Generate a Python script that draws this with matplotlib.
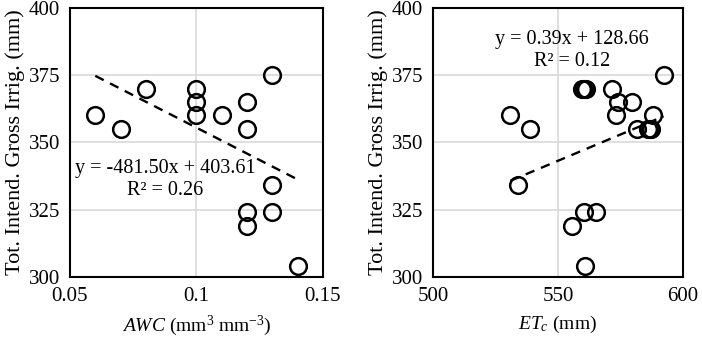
import numpy as np
import matplotlib
matplotlib.use("Agg")
import matplotlib.pyplot as plt

plt.rcParams['font.family'] = 'Liberation Serif'
plt.rcParams['mathtext.fontset'] = 'custom'
plt.rcParams['mathtext.rm'] = 'Liberation Serif'
plt.rcParams['mathtext.it'] = 'Liberation Serif:italic'

# left panel data
awc = [0.06, 0.07, 0.08, 0.10, 0.10, 0.10, 0.11, 0.12, 0.12, 0.12, 0.12, 0.13, 0.13, 0.13, 0.14]
irr_awc = [360, 355, 370, 370, 365, 360, 360, 365, 355, 324, 319, 375, 334, 324, 304]
awc_slope, awc_int = -481.50, 403.61
awc_r2 = 0.26

# right panel data
etc = [531, 539, 534, 559.7, 560.5, 561.2, 560.5, 565.4, 555.7, 560.8, 571.8, 573.9,
       579.8, 573.4, 581.6, 586, 586.7, 587.4, 588, 592.3]
irr_etc = [360, 355, 334, 370, 370, 370, 324, 324, 319, 304, 370, 365,
           365, 360, 355, 355, 355, 355, 360, 375]
etc_slope, etc_int = 0.39, 128.66
etc_r2 = 0.12

yticks = [300, 325, 350, 375, 400]

fig = plt.figure(figsize=(7.02, 3.39), dpi=100)
ax1 = fig.add_axes([0.0997, 0.183, 0.3604, 0.794])
ax2 = fig.add_axes([0.6168, 0.183, 0.356, 0.794])


def panel(ax, x, y, slope, intercept, r2, xlim, xticks, xlabels, xlabel, txt_xy):
    ax.plot(x, y, 'o', ms=12, mfc='none', mec='black', mew=1.8, zorder=3)
    xs = np.array([min(x), max(x)])
    ax.plot(xs, slope * xs + intercept, '--', color='black', lw=1.7, dashes=(4, 3), zorder=2)
    ax.set_xlim(xlim)
    ax.set_ylim(300, 400)
    ax.set_xticks(xticks)
    ax.set_xticklabels(xlabels)
    ax.set_yticks(yticks)
    ax.grid(True, color='#d9d9d9', lw=1.2)
    ax.set_axisbelow(True)
    ax.tick_params(length=0, labelsize=15, pad=7)
    for s in ax.spines.values():
        s.set_linewidth(1.5)
        s.set_color('black')
    ax.set_ylabel('Tot. Intend. Gross Irrig. (mm)', fontsize=16, labelpad=3)
    ax.set_xlabel(xlabel, fontsize=14, labelpad=6)
    sign = '-' if slope < 0 else ''
    eq = 'y = %s%.2fx + %.2f\nR² = %.2f' % (sign, abs(slope), intercept, r2)
    ax.text(txt_xy[0], txt_xy[1], eq, fontsize=14.5, ha='center', va='center',
            multialignment='center', linespacing=1.25)


panel(ax1, awc, irr_awc, awc_slope, awc_int, awc_r2, (0.05, 0.15),
      [0.05, 0.1, 0.15], ['0.05', '0.1', '0.15'],
      r'$\it{AWC}$ (mm$^3$ mm$^{-3}$)', (0.0876, 336.3))
panel(ax2, etc, irr_etc, etc_slope, etc_int, etc_r2, (500, 600),
      [500, 550, 600], ['500', '550', '600'],
      r'$\it{ET_c}$ (mm)', (555.5, 384.2))

fig.savefig('out.png', dpi=100)
